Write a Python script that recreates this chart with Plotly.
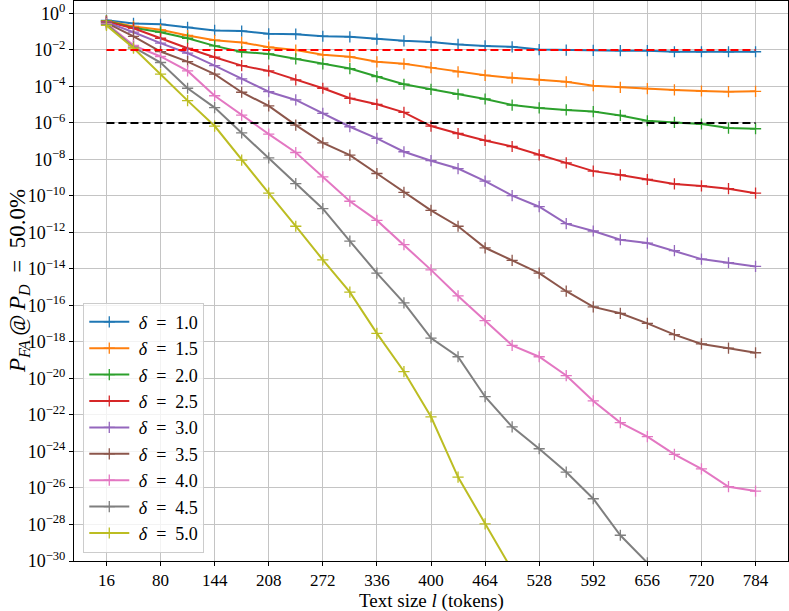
import plotly.graph_objects as go

# Text size l (tokens)
text_size = [16, 48, 80, 112, 144, 176, 208, 240, 272, 304, 336, 368, 400,
             432, 464, 496, 528, 560, 592, 624, 656, 688, 720, 752, 784]

# log10(P_FA), one list per delta
log_pfa_d10 = [-0.38, -0.55, -0.60, -0.77, -0.93, -0.97, -1.12, -1.14, -1.25, -1.28, -1.41, -1.50, -1.57,
               -1.70, -1.78, -1.83, -1.98, -2.01, -2.03, -2.04, -2.04, -2.10, -2.10, -2.10, -2.10]
log_pfa_d15 = [-0.40, -0.71, -0.90, -1.21, -1.47, -1.59, -1.85, -2.01, -2.27, -2.38, -2.65, -2.76, -2.97,
               -3.20, -3.39, -3.53, -3.64, -3.75, -3.96, -4.05, -4.12, -4.19, -4.25, -4.29, -4.27]
log_pfa_d20 = [-0.42, -0.79, -1.03, -1.36, -1.78, -2.11, -2.22, -2.49, -2.76, -3.02, -3.46, -3.88, -4.16,
               -4.43, -4.69, -5.02, -5.18, -5.29, -5.38, -5.59, -5.88, -5.97, -6.06, -6.28, -6.32]
log_pfa_d25 = [-0.45, -0.81, -1.36, -1.91, -2.40, -2.86, -3.15, -3.64, -4.10, -4.65, -4.98, -5.42, -6.17,
               -6.58, -6.96, -7.29, -7.75, -8.19, -8.64, -8.85, -9.10, -9.34, -9.45, -9.60, -9.85]
log_pfa_d30 = [-0.48, -1.03, -1.63, -2.18, -2.86, -3.59, -4.29, -4.74, -5.48, -6.21, -6.85, -7.58, -8.07,
               -8.50, -9.19, -9.98, -10.59, -11.52, -11.92, -12.40, -12.58, -13.00, -13.46, -13.66, -13.86]
log_pfa_d35 = [-0.52, -1.26, -2.09, -2.64, -3.33, -4.32, -5.07, -6.12, -7.09, -7.76, -8.77, -9.80, -10.79,
               -11.66, -12.84, -13.53, -14.23, -15.22, -16.08, -16.43, -16.98, -17.60, -18.11, -18.34, -18.59]
log_pfa_d40 = [-0.56, -1.75, -2.36, -3.15, -4.51, -5.57, -6.61, -7.62, -8.96, -10.29, -11.34, -12.67, -14.05,
               -15.48, -16.83, -18.19, -18.81, -19.84, -21.23, -22.42, -23.19, -24.16, -24.95, -25.93, -26.17]
log_pfa_d45 = [-0.60, -1.85, -2.69, -4.10, -5.16, -6.54, -7.91, -9.32, -10.70, -12.47, -14.23, -15.86, -17.79,
               -18.81, -21.00, -22.65, -23.85, -25.13, -26.59, -28.59, -30.10, -31.50, -32.60, -33.90, -35.00]
log_pfa_d50 = [-0.66, -1.90, -3.33, -4.78, -6.17, -8.04, -9.85, -11.66, -13.50, -15.27, -17.53, -19.62, -22.10,
               -25.40, -27.97, -30.50, -32.90, -35.20, -37.40, -39.60, -41.50, -43.40, -45.30, -47.00, -48.80]

deltas = ["1.0", "1.5", "2.0", "2.5", "3.0", "3.5", "4.0", "4.5", "5.0"]
series = [log_pfa_d10, log_pfa_d15, log_pfa_d20, log_pfa_d25, log_pfa_d30,
          log_pfa_d35, log_pfa_d40, log_pfa_d45, log_pfa_d50]
colors = ["#1f77b4", "#ff7f0e", "#2ca02c", "#d62728", "#9467bd",
          "#8c564b", "#e377c2", "#7f7f7f", "#bcbd22"]

# reference thresholds
threshold_red = 1e-2
threshold_black = 1e-6

ytick_exps = list(range(0, -31, -2))

FONT = "Liberation Serif"
ML, MR, MT, MB = 74, 1, 1, 50
W, H = 789, 611
PH = H - MT - MB

fig = go.Figure()
for d, s, c in zip(deltas, series, colors):
    fig.add_trace(go.Scatter(
        x=text_size, y=[10 ** v for v in s], mode="lines+markers",
        name=f"\u00a0<i>δ</i>\u2002=\u2002{d}",
        line=dict(color=c, width=2),
        marker=dict(symbol="cross-thin", size=8, line=dict(color=c, width=1.3)),
    ))

fig.add_trace(go.Scatter(x=[text_size[0], text_size[-1]], y=[threshold_red] * 2, mode="lines",
                         line=dict(color="red", width=2, dash="8px,4px"), showlegend=False))
fig.add_trace(go.Scatter(x=[text_size[0], text_size[-1]], y=[threshold_black] * 2, mode="lines",
                         line=dict(color="black", width=2, dash="8px,4px"), showlegend=False))

fig.update_layout(
    width=W, height=H,
    margin=dict(l=ML, r=MR, t=MT, b=MB),
    paper_bgcolor="white", plot_bgcolor="white",
    font=dict(family=FONT, size=17, color="black"),
    legend=dict(x=0.013, y=0.015, xanchor="left", yanchor="bottom",
                bgcolor="rgba(255,255,255,0.8)", bordercolor="#cccccc", borderwidth=1,
                font=dict(size=18), tracegroupgap=0, itemwidth=40),
    showlegend=True,
    annotations=[
        dict(text="<i>P</i><sub><i>FA</i></sub>\u2009@\u2009<i>P</i><sub><i>D</i></sub>\u2002=\u200250.0%",
             xref="paper", yref="paper", x=-(ML - 19) / (W - ML - MR), y=0.5,
             xanchor="center", yanchor="middle", textangle=-90, showarrow=False,
             font=dict(size=23)),
        dict(text="Text size <i>l</i> (tokens)",
             xref="paper", yref="paper", x=0.5, y=-(601 - (H - MB)) / PH,
             xanchor="center", yanchor="middle", showarrow=False,
             font=dict(size=19)),
    ],
)
fig.update_xaxes(
    range=[-22.4, 822.4], tickvals=list(range(16, 785, 64)),
    showline=True, linecolor="black", linewidth=1, mirror=True,
    ticks="outside", ticklen=4, tickcolor="black",
    showgrid=True, gridcolor="#c4c4c4", gridwidth=1, zeroline=False, automargin=False,
    tickfont=dict(size=17),
)
fig.update_yaxes(
    type="log", range=[-30, 0.68],
    tickvals=[10 ** e for e in ytick_exps],
    ticktext=[f"10<sup>{str(e).replace('-', '−')}</sup>" for e in ytick_exps],
    showline=True, linecolor="black", linewidth=1, mirror=True,
    ticks="outside", ticklen=4, tickcolor="black",
    showgrid=True, gridcolor="#c4c4c4", gridwidth=1, zeroline=False, automargin=False,
    tickfont=dict(size=18),
)

fig.write_html("out.html", config={"displayModeBar": False},
               post_script="document.body.style.margin='0px';")
